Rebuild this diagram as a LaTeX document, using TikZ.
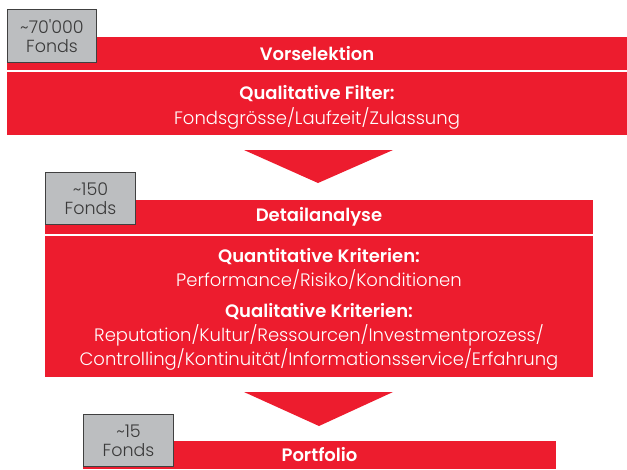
\documentclass[tikz,border=0pt]{standalone}
\usepackage{fontspec}
\setmainfont{Poppins}[UprightFont=* Light, BoldFont=* SemiBold]
\usepackage{tikz}
\usetikzlibrary{positioning}
\definecolor{fondred}{RGB}{237,28,46}
\definecolor{boxgray}{RGB}{188,190,192}
\definecolor{boxline}{RGB}{64,64,64}
\definecolor{boxtext}{RGB}{58,58,58}

\begin{document}
\begin{tikzpicture}[x=1pt, y=-1pt,
    head/.style={rectangle, fill=fondred, inner sep=0pt, outer sep=0pt, minimum height=33pt, text=white, font=\bfseries\fontsize{18}{21}\selectfont},
    body/.style={rectangle, fill=fondred, inner sep=0pt, outer sep=0pt},
    label/.style={text=white, inner sep=0pt, anchor=base, font=\fontsize{18}{21}\selectfont},
    title/.style={label, font=\bfseries\fontsize{18}{21}\selectfont},
    count/.style={rectangle, draw=boxline, line width=1pt, fill=boxgray, minimum width=89pt, minimum height=52pt, inner sep=0pt, align=center, text=boxtext, font=\fontsize{17.5}{19}\selectfont, anchor=south west}
]
\useasboundingbox (0,0) rectangle (627,469);

% Vorselektion
\node[head, minimum width=620pt, anchor=north west] (vorsel) at (7,37) {Vorselektion};
\node[body, minimum width=620pt, minimum height=63pt, below=2pt of vorsel] (body1) {};
\node[title] (filter) at ([yshift=-27pt]body1.north) {Qualitative Filter:};
\node[label] (filter_text) at ([yshift=-52pt]body1.north) {Fondsgrösse/Laufzeit/Zulassung};
\node[count, minimum height=53pt] (count1) at ([yshift=-26pt]vorsel.north west) {\textasciitilde 70\textquotesingle 000\\Fonds};

% Pfeil 1
\fill[fondred] ([yshift=-15pt]body1.south) ++(-73,0) -- ++(149,0) -- ++(-75,33) -- cycle;

% Detailanalyse
\node[head, minimum width=548pt, minimum height=34pt, anchor=north west] (detail) at (45,200) {Detailanalyse};
\node[body, minimum width=548pt, minimum height=141pt, below=2pt of detail] (body2) {};
\node[title] (quant) at ([yshift=-26pt]body2.north) {Quantitative Kriterien:};
\node[label] (quant_text) at ([yshift=-50pt]body2.north) {Performance/Risiko/Konditionen};
\node[title] (qual) at ([yshift=-81pt]body2.north) {Qualitative Kriterien:};
\node[label] (qual_text1) at ([yshift=-105pt]body2.north) {Reputation/Kultur/Ressourcen/Investmentprozess/};
\node[label] (qual_text2) at ([yshift=-129pt]body2.north) {Controlling/Kontinuität/Informationsservice/Erfahrung};
\node[count, minimum width=90pt] (count2) at ([yshift=-25pt]detail.north west) {\textasciitilde 150\\Fonds};

% Pfeil 2
\fill[fondred] ([yshift=-15pt]body2.south) ++(-75,0) -- ++(149,0) -- ++(-74,34) -- cycle;

% Portfolio
\node[head, minimum width=473pt, minimum height=28pt, anchor=north west] (portf) at (83,441) {Portfolio};
\node[count, minimum width=90pt] (count3) at ([yshift=-26pt]portf.north west) {\textasciitilde 15\\Fonds};

\end{tikzpicture}
\end{document}
